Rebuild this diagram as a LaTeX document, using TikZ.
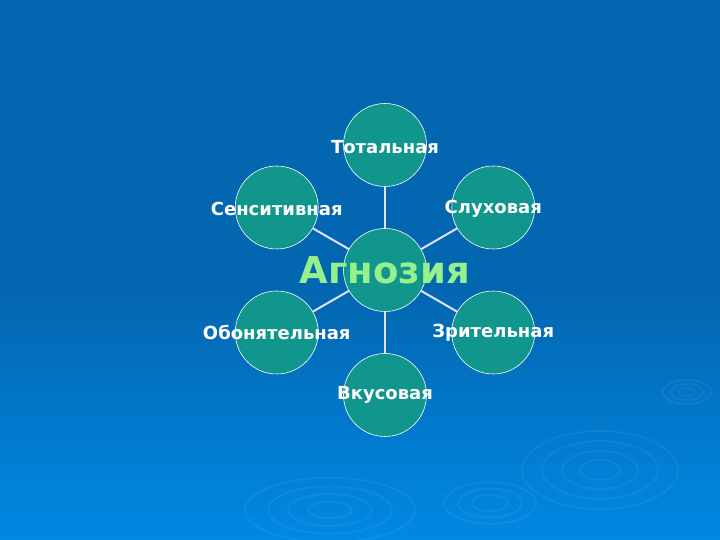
\documentclass[tikz,border=0pt]{standalone}
\usepackage{fontspec}
\setmainfont{DejaVu Sans}
\usetikzlibrary{shapes.geometric}
\definecolor{bgtop}{RGB}{3,102,176}
\definecolor{bgbot}{RGB}{0,137,227}
\definecolor{teal}{RGB}{16,150,140}
\definecolor{agncol}{RGB}{150,240,140}
\tikzstyle{leaf} = [circle, minimum size=83pt, inner sep=0pt, draw=white, line width=0.6pt, fill=teal]
\tikzstyle{leaftext} = [font=\bfseries\fontsize{18}{20}\selectfont, text=white]
\tikzstyle{spoke} = [line width=2pt, draw=white!88!blue]
\tikzstyle{ripple} = [line width=1.8pt, draw=white, opacity=0.06]

\begin{document}
\begin{tikzpicture}[x=1pt, y=1pt]
    \useasboundingbox (-385,-270) rectangle (335,270);
    \fill [bgtop] (-385,-270) rectangle (335,270);
    \shade [top color=bgtop, bottom color=bgbot] (-385,-270) rectangle (335,-20);

    % ripples
    \foreach \r in {20,38,58,78} \draw [ripple] (215,-200) ellipse ({\r} and {\r*0.5});
    \foreach \r in {22,42,62,85} \draw [ripple] (-55,-240) ellipse ({\r} and {\r*0.38});
    \foreach \r in {18,32,46} \draw [ripple] (105,-233) ellipse ({\r} and {\r*0.45});
    \foreach \r in {8,16,24} \draw [ripple] (302,-122) ellipse ({\r} and {\r*0.5});

    \node (agn) [leaf] at (0,0) {};

    \node (tot) [leaf] at (90:125) {};
    \node (slu) [leaf] at (30:125) {};
    \node (zri) [leaf] at (-30:125) {};
    \node (vku) [leaf] at (-90:125) {};
    \node (obo) [leaf] at (-150:125) {};
    \node (sen) [leaf] at (150:125) {};

    \draw [spoke] (agn) -- (tot);
    \draw [spoke] (agn) -- (slu);
    \draw [spoke] (agn) -- (zri);
    \draw [spoke] (agn) -- (vku);
    \draw [spoke] (agn) -- (obo);
    \draw [spoke] (agn) -- (sen);

    \node (agn-t) [font=\bfseries\fontsize{37}{40}\selectfont, text=agncol] at (agn) {Агнозия};
    \node (tot-t) [leaftext] at ([yshift=-2pt]tot.center) {Тотальная};
    \node (slu-t) [leaftext] at ([yshift=-1pt]slu.center) {Слуховая};
    \node (zri-t) [leaftext] at (zri.center) {Зрительная};
    \node (vku-t) [leaftext] at (vku.center) {Вкусовая};
    \node (obo-t) [leaftext] at (obo.center) {Обонятельная};
    \node (sen-t) [leaftext] at ([yshift=-1pt]sen.center) {Сенситивная};
\end{tikzpicture}
\end{document}
